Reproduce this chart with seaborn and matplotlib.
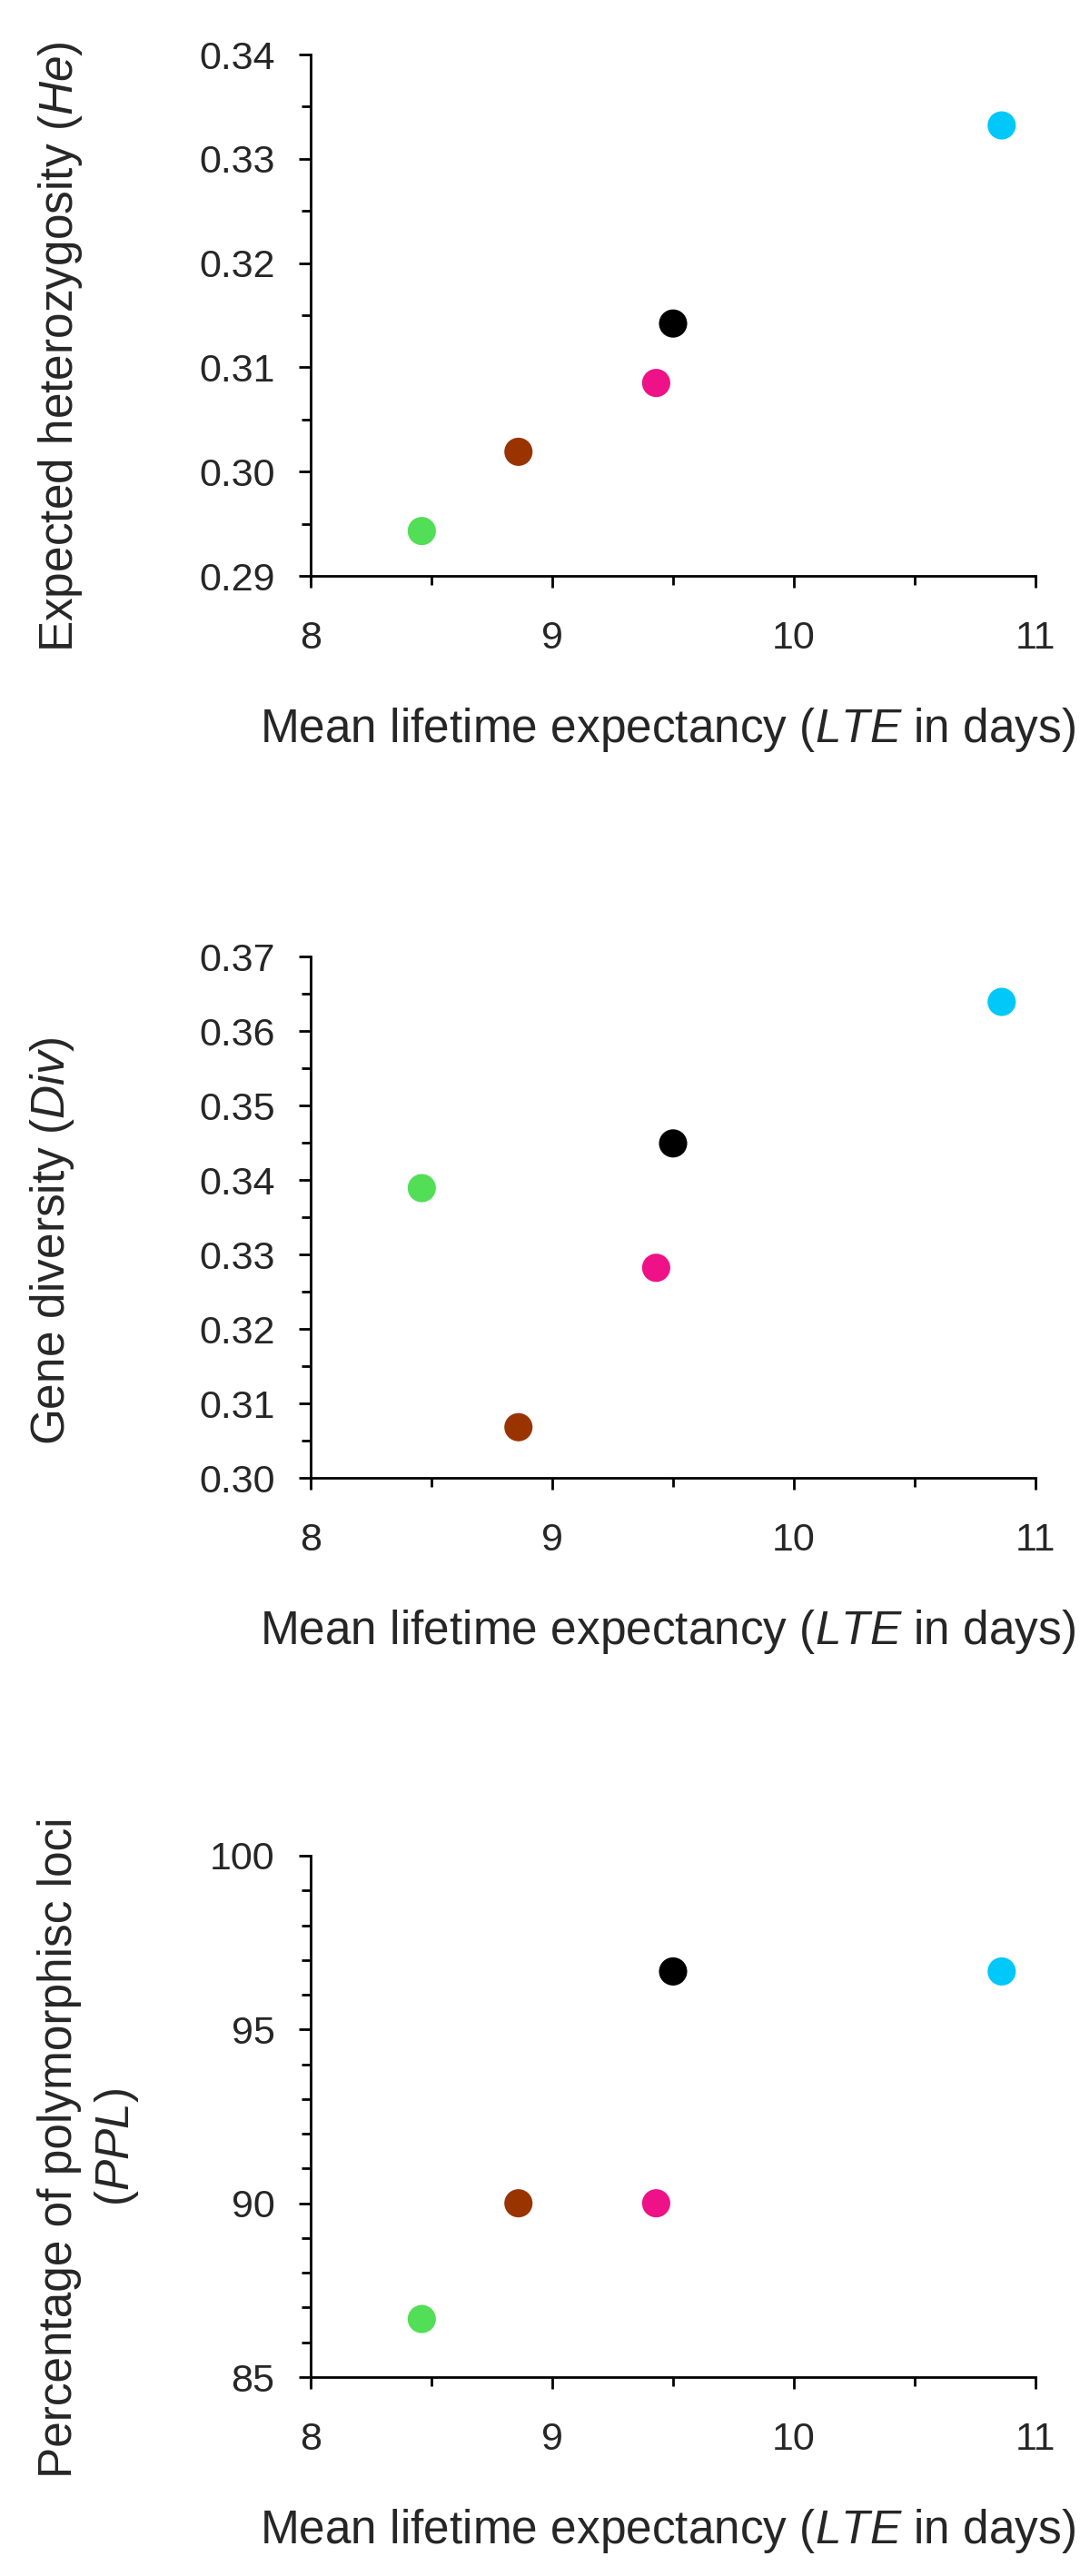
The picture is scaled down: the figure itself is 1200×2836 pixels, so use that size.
import matplotlib
matplotlib.use('Agg')
import matplotlib.pyplot as plt
import seaborn as sns
from matplotlib.ticker import MultipleLocator, FormatStrFormatter

# Values (one point per population, same order in every panel)
lte_days = [8.46, 8.86, 9.43, 9.50, 10.86]
point_colors = ['#52DE56', '#993300', '#EE1188', '#000000', '#00C8F8']

he_values = [0.2943, 0.3019, 0.3085, 0.3142, 0.3332]
div_values = [0.3389, 0.3068, 0.3282, 0.3449, 0.3639]
ppl_values = [86.67, 90.0, 90.0, 96.67, 96.67]

x_label = 'Mean lifetime expectancy ($\\mathit{LTE}$ in days)'
y_labels = ['Expected heterozygosity ($\\mathit{He}$)',
            'Gene diversity ($\\mathit{Div}$)',
            'Percentage of polymorphisc loci\n($\\mathit{PPL}$)']

sns.set_style('ticks')
plt.rcParams['font.family'] = ['Liberation Sans', 'DejaVu Sans']
plt.rcParams['mathtext.fontset'] = 'custom'
plt.rcParams['mathtext.rm'] = 'Liberation Sans'
plt.rcParams['mathtext.it'] = 'Liberation Sans:italic'


def draw_panel(ax, y_values, ylim, major, minor, fmt, ylabel, label_x, label_y):
    palette = {c: c for c in point_colors}
    sns.scatterplot(x=lte_days, y=y_values, hue=point_colors, palette=palette,
                    s=500, linewidth=0, legend=False, ax=ax)
    ax.set_xlim(8, 11)
    ax.set_ylim(*ylim)
    ax.xaxis.set_major_locator(MultipleLocator(1))
    ax.xaxis.set_minor_locator(MultipleLocator(0.5))
    ax.yaxis.set_major_locator(MultipleLocator(major))
    ax.yaxis.set_minor_locator(MultipleLocator(minor))
    ax.yaxis.set_major_formatter(FormatStrFormatter(fmt))
    sns.despine(ax=ax)
    for side in ['left', 'bottom']:
        ax.spines[side].set_linewidth(2)
        ax.spines[side].set_color('black')
    ax.tick_params(which='major', length=9.4, width=2, color='black', labelsize=31)
    ax.tick_params(which='minor', length=7, width=2, color='black')
    ax.tick_params(axis='x', which='major', pad=26)
    ax.tick_params(axis='y', which='major', pad=19)
    ax.set_xlabel(x_label, fontsize=37, va='center')
    ax.xaxis.set_label_coords(0.492, -0.296)
    ax.set_ylabel(ylabel, fontsize=37, va='center', linespacing=1.3)
    ax.yaxis.set_label_coords(label_x, label_y)


fig = plt.figure(figsize=(12, 28.36), dpi=100)
left, width, height = 342 / 1200, 798 / 1200, 574 / 2836
ax1 = fig.add_axes([left, 1 - 634 / 2836, width, height])
ax2 = fig.add_axes([left, 1 - 1627 / 2836, width, height])
ax3 = fig.add_axes([left, 1 - 2617 / 2836, width, height])

draw_panel(ax1, he_values, (0.29, 0.34), 0.01, 0.005, '%.2f', y_labels[0],
           (67 - 342) / 798, 0.44)
draw_panel(ax2, div_values, (0.30, 0.37), 0.01, 0.005, '%.2f', y_labels[1],
           (58 - 342) / 798, 0.455)
draw_panel(ax3, ppl_values, (85, 100), 5, 1, '%d', y_labels[2],
           (98 - 342) / 798, 0.44)

for ax in [ax1, ax2, ax3]:
    for coll in ax.collections:
        coll.set_clip_on(False)

fig.savefig('out.png', dpi=100)
